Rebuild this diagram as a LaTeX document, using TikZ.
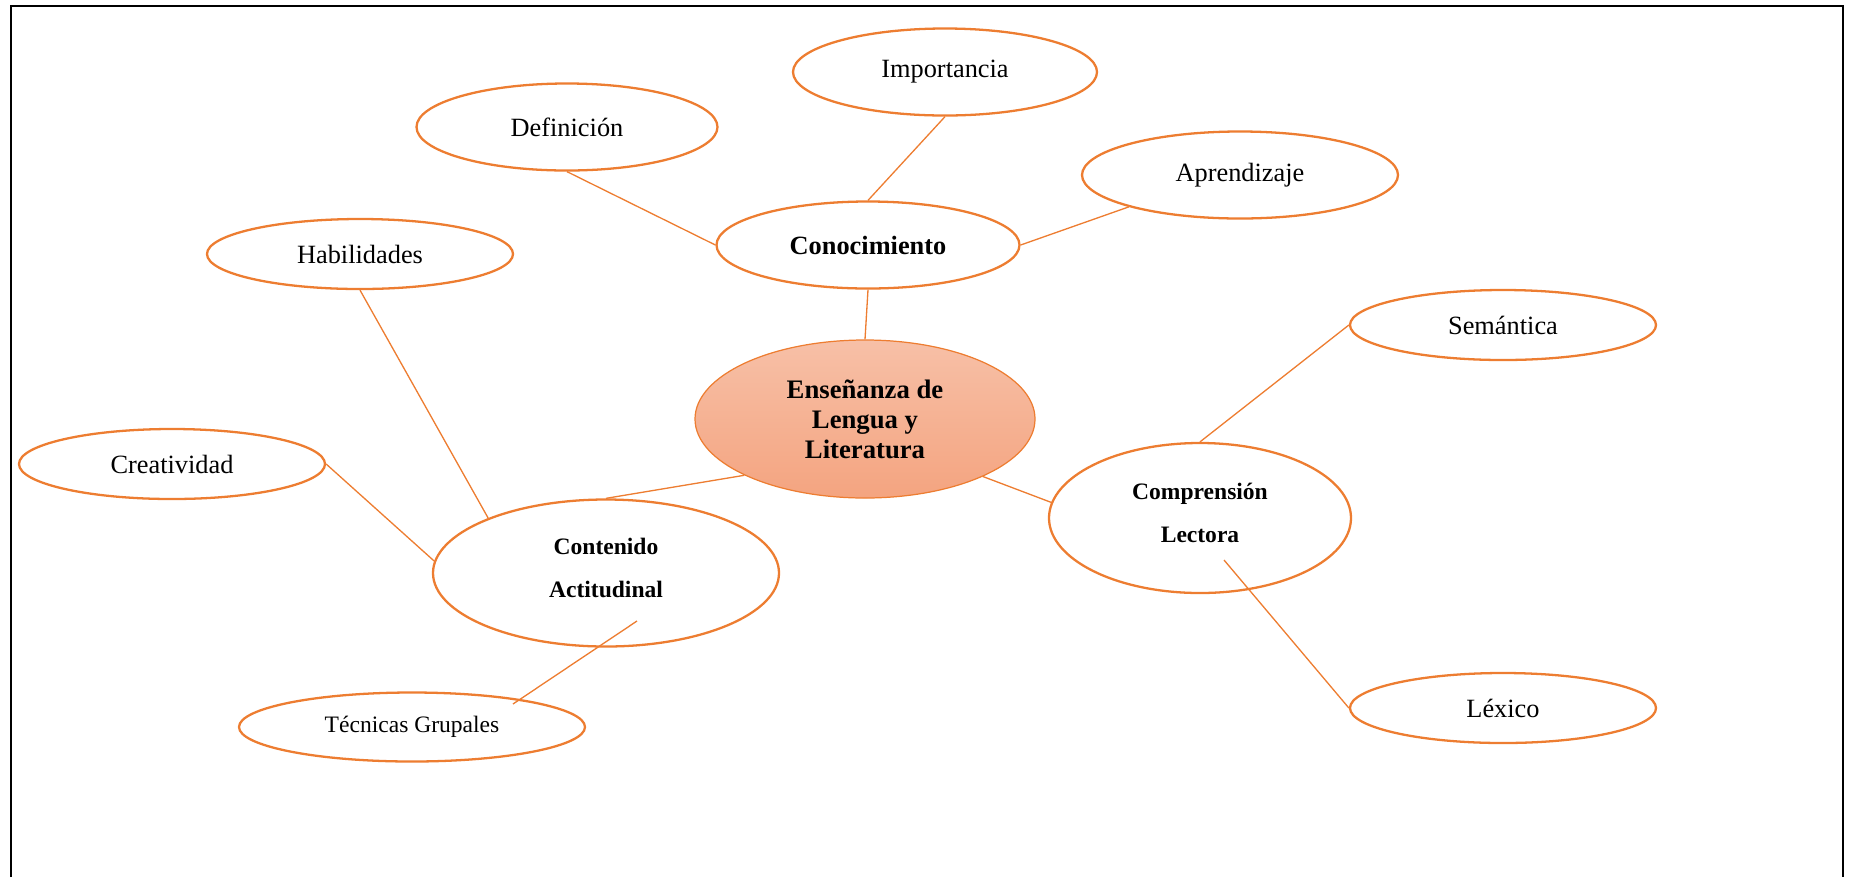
\documentclass[tikz,border=0pt]{standalone}
\usepackage{fontspec}
\setmainfont{Liberation Serif}
\usetikzlibrary{shapes.geometric, calc}
\definecolor{orangeline}{RGB}{237,125,49}
\definecolor{peachtop}{RGB}{247,192,167}
\definecolor{peachbottom}{RGB}{244,164,128}
\newcommand{\liftup}[1]{\raisebox{2.8pt}[\height][\depth]{#1}}

\begin{document}
\begin{tikzpicture}[x=0.02cm,y=-0.02cm]

    \useasboundingbox (0,0) rectangle (1852,877);
    \draw[line width=1.1pt] (11,877) -- (11,6) -- (1843,6) -- (1843,877);

    \tikzset{
    % ellipse styles for the map
    leaf/.style={ellipse, draw=orangeline, line width=1.3pt, inner sep=0pt, fill=white,
        font=\fontsize{15}{17}\selectfont},
    tallleaf/.style={leaf, minimum width=304*0.02cm, minimum height=87*0.02cm},
    smallleaf/.style={leaf, minimum width=306*0.02cm, minimum height=70*0.02cm},
    bigleaf/.style={leaf, align=center, minimum width=302*0.02cm, minimum height=150*0.02cm,
        font=\fontsize{13.4}{24.4}\selectfont\bfseries},
    central/.style={ellipse, draw=orangeline, line width=0.7pt, inner sep=0pt, align=center,
        top color=peachtop, bottom color=peachbottom,
        minimum width=340*0.02cm, minimum height=158*0.02cm,
        font=\fontsize{15.2}{17}\selectfont\bfseries},
    link/.style={draw=orangeline, line width=0.75pt}
    }

    % main topic
    \node (cen) at (865,419) [central] {Enseñanza de\\Lengua y\\Literatura};

    % first level
    \node (con) at (868,245) [tallleaf, minimum width=303*0.02cm, font=\fontsize{15}{17}\selectfont\bfseries] {Conocimiento};
    \node (cl) at (1200,518) [bigleaf] {\liftup{Comprensión}\\\liftup{Lectora}};
    \node (ca) at (606,573) [bigleaf, minimum width=346*0.02cm, minimum height=147*0.02cm] {\liftup{Contenido}\\\liftup{Actitudinal}};

    % second level
    \node (imp) at (945,72) [tallleaf] {Importancia};
    \node (def) at (567,127) [tallleaf, minimum width=301*0.02cm] {Definición};
    \node (apr) at (1240,175) [tallleaf, minimum width=316*0.02cm] {Aprendizaje};
    \node (hab) at (360,254) [smallleaf] {Habilidades};
    \node (sem) at (1503,325) [smallleaf] {Semántica};
    \node (cre) at (172,464) [smallleaf] {Creatividad};
    \node (lex) at (1503,708) [smallleaf] {Léxico};
    \node (tec) at (412,727) [smallleaf, minimum width=346*0.02cm, minimum height=69*0.02cm,
        font=\fontsize{13.4}{16}\selectfont] {Técnicas Grupales};

    % loose ends inside the ellipses
    \coordinate (clin) at ($(cl)+(24,42)$);
    \coordinate (tecin) at ($(tec)+(101,-23)$);
    \coordinate (cain) at ($(ca)+(31,48)$);

    \draw[link] (imp.south) -- (con.north);
    \draw[link] (def.south) -- (con.west);
    \draw[link] (apr.196) -- (con.east);
    \draw[link] (con.south) -- (cen.north);
    \draw[link] (cen.205) -- (ca.north);
    \draw[link] (cen.-26) -- (cl.174);
    \draw[link] (hab.south) -- (ca.155);
    \draw[link] (cre.east) -- (ca.176);
    \draw[link] (tecin) -- (cain);
    \draw[link] (sem.west) -- (cl.north);
    \draw[link] (clin) -- (lex.west);
\end{tikzpicture}
\end{document}
